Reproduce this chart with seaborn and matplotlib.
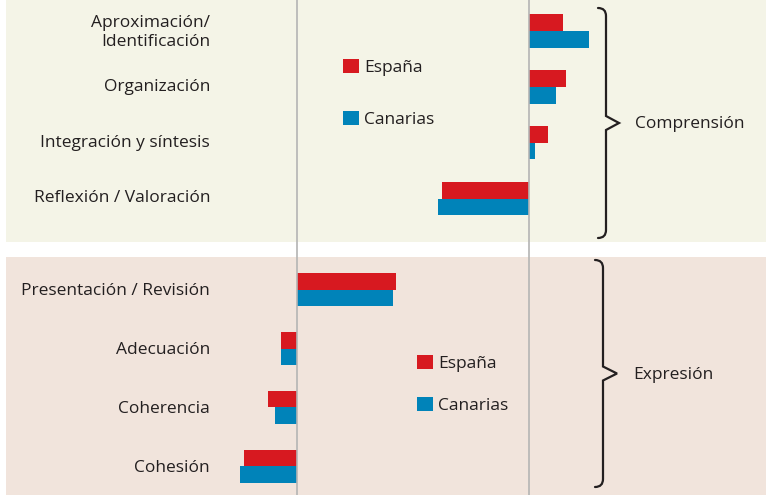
import numpy as np
import pandas as pd
import seaborn as sns
import matplotlib.pyplot as plt
import matplotlib.transforms as mtransforms
from matplotlib.path import Path
from matplotlib.patches import PathPatch

# Data (differences)
comprension_cats = ["Aproximación/\nIdentificación", "Organización",
                    "Integración y síntesis", "Reflexión / Valoración"]
comprension_espana = [11.3, 12.3, 6.3, -29.0]
comprension_canarias = [20.0, 9.0, 2.0, -30.3]

expresion_cats = ["Presentación / Revisión", "Adecuación",
                  "Coherencia", "Cohesión"]
expresion_espana = [33.0, -5.3, -9.7, -17.7]
expresion_canarias = [32.0, -5.3, -7.3, -19.0]

series_names = ["España", "Canarias"]
group_names = ["Comprensión", "Expresión"]

colors = {"España": "#d71920", "Canarias": "#0083b9"}
text_color = "#231f20"

W, H = 766, 495
sns.set_theme(style="white")
plt.rcParams['font.family'] = ['Open Sans', 'DejaVu Sans']

fig = plt.figure(figsize=(W / 100, H / 100), dpi=100)


def fig_box(x0, y0, x1, y1):
    # pixel box (top-left origin) -> figure fraction
    return [x0 / W, 1 - y1 / H, (x1 - x0) / W, (y1 - y0) / H]


def make_df(cats, esp, can):
    return pd.DataFrame({
        "cat": cats * 2,
        "value": esp + can,
        "serie": [series_names[0]] * len(cats) + [series_names[1]] * len(cats),
    })


px_per_unit = 3.0
panels = [
    dict(box=(6, 0, 766, 242), zero=529, bg="#f4f4e7",
         df=make_df(comprension_cats, comprension_espana, comprension_canarias),
         ylim=(3.78, -0.56), width=0.6, label_shift=1.5,
         legend_anchor=(343, 59), legend_spacing=2.0),
    dict(box=(6, 257, 766, 495), zero=297, bg="#f1e4dc",
         df=make_df(expresion_cats, expresion_espana, expresion_canarias),
         ylim=(3.49, -0.56), width=0.56, label_shift=0.5,
         legend_anchor=(417, 355), legend_spacing=1.45),
]

axes = []
for p in panels:
    x0, y0, x1, y1 = p["box"]
    ax = fig.add_axes(fig_box(x0, y0, x1, y1))
    ax.set_facecolor(p["bg"])
    sns.barplot(data=p["df"], y="cat", x="value", hue="serie",
                palette=colors, orient="h", width=p["width"],
                saturation=1, ax=ax, linewidth=0)
    ax.set_xlim(-(p["zero"] - x0) / px_per_unit, (x1 - p["zero"]) / px_per_unit)
    ax.set_ylim(*p["ylim"])
    ax.set_xticks([])
    ax.set_xlabel("")
    ax.set_ylabel("")
    for s in ax.spines.values():
        s.set_visible(False)
    # labels right-aligned inside the panel, a touch above bar centre
    ax.tick_params(axis="y", length=0, pad=-(210 - x0) * 0.72,
                   labelsize=12.5, labelcolor=text_color)
    shift = mtransforms.ScaledTranslation(0, p["label_shift"] / 72,
                                          fig.dpi_scale_trans)
    for lab in ax.get_yticklabels():
        lab.set_transform(lab.get_transform() + shift)
    lx, ly = p["legend_anchor"]
    ax.legend(loc="upper left",
              bbox_to_anchor=((lx - x0) / (x1 - x0), 1 - (ly - y0) / (y1 - y0)),
              frameon=False, fontsize=12.5, handlelength=0.9,
              handleheight=0.85, handletextpad=0.3,
              labelspacing=p["legend_spacing"], borderpad=0,
              borderaxespad=0, labelcolor=text_color)
    axes.append(ax)

# zero lines crossing the whole figure
for ax in axes:
    tr = mtransforms.blended_transform_factory(ax.transData, fig.transFigure)
    fig.add_artist(plt.Line2D([0, 0], [0, 1], transform=tr,
                              color="#b4b4b4", lw=1.2, zorder=5))


def brace(x, y_top, y_bot, tip_x, hook=8):
    ym = (y_top + y_bot) / 2
    pts = [(x - hook, y_top), (x, y_top), (x, y_top + hook),
           (x, ym - 7), (tip_x, ym), (x, ym + 7),
           (x, y_bot - hook), (x, y_bot), (x - hook, y_bot)]
    codes = [Path.MOVETO, Path.CURVE3, Path.CURVE3,
             Path.LINETO, Path.LINETO, Path.LINETO,
             Path.LINETO, Path.CURVE3, Path.CURVE3]
    pts = [(a / W, 1 - b / H) for a, b in pts]
    fig.add_artist(PathPatch(Path(pts, codes), transform=fig.transFigure,
                             fill=False, edgecolor=text_color, lw=1.6,
                             capstyle="round", joinstyle="miter"))


brace(606, 8, 238, 619)
brace(603, 260, 487, 617)

fig.text(635 / W, 1 - 124 / H, group_names[0], ha="left", va="center",
         fontsize=12.5, color=text_color)
fig.text(633 / W, 1 - 375 / H, group_names[1], ha="left", va="center",
         fontsize=12.5, color=text_color)

fig.savefig("out.png", dpi=100)
